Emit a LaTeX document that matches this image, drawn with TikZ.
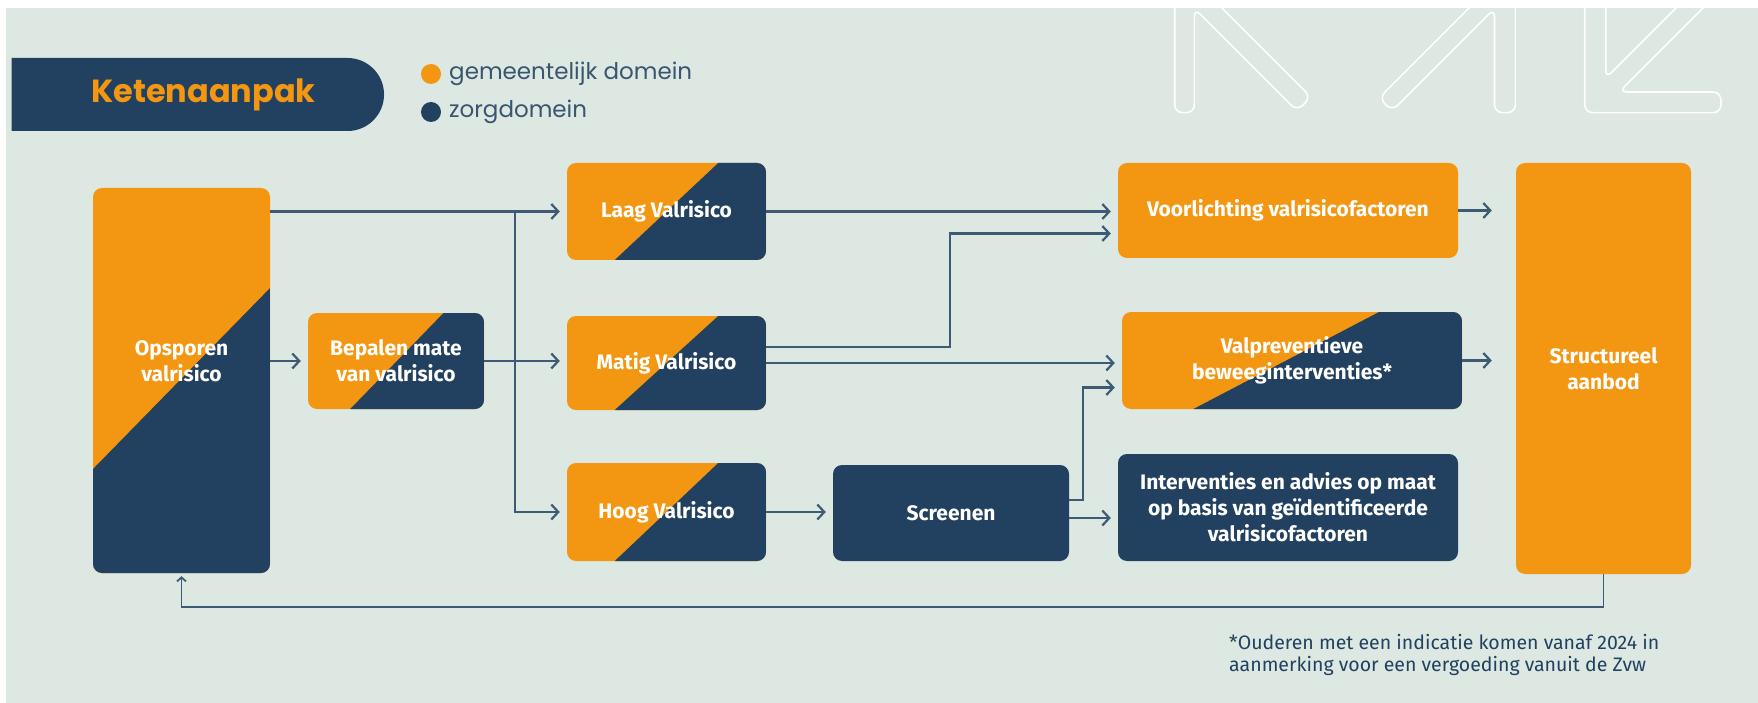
\documentclass[tikz,border=0pt]{standalone}
\usepackage{fontspec}
\setmainfont{Fira Sans}
\newfontfamily\poppins{Poppins}
\usetikzlibrary{calc,arrows.meta,shapes.misc}
\definecolor{keteorange}{HTML}{F39712}
\definecolor{ketenavy}{HTML}{22405F}
\definecolor{ketebg}{HTML}{DCE8E1}
\definecolor{ketearrow}{HTML}{3E5B75}
\definecolor{ketetext}{HTML}{3A5570}
\begin{document}
\begin{tikzpicture}[x=1pt, y=-1pt, >={Straight Barb[length=7pt,width=15pt]},
    box/.style={rounded corners=9pt, align=center, inner sep=0pt, text=white,
      font=\bfseries\fontsize{21}{26}\selectfont},
    orangebox/.style={box, fill=keteorange},
    navybox/.style={box, fill=ketenavy},
    splitbox/.style 2 args={box, fill=keteorange, path picture={
      \fill[ketenavy, sharp corners]
        ($(path picture bounding box.south west)!#1!(path picture bounding box.south east)$) --
        ($(path picture bounding box.north west)!#2!(path picture bounding box.north east)$) --
        (path picture bounding box.north east) -- (path picture bounding box.south east) -- cycle;}},
    titlebox/.style={rounded rectangle, rounded rectangle west arc=none, fill=ketenavy,
      text=keteorange, font=\poppins\bfseries\fontsize{32}{40}\selectfont},
    dot/.style={circle, inner sep=0pt, minimum size=20pt},
    legendtext/.style={anchor=west, inner sep=0pt, text=ketetext, font=\poppins\fontsize{23}{27}\selectfont},
    link/.style={->, draw=ketearrow, line width=2.2pt, shorten >=7pt}]
  \useasboundingbox (0,0) rectangle (1758,703);
  \fill[white] (0,0) rectangle (1758,703);
  \fill[ketebg] (6,8) rectangle (1758,703);
  \begin{scope}
    \clip (6,8) rectangle (1758,703);
    \draw[white, line width=1.6pt, rounded corners=8pt]
      (1174.7,-30) -- (1174.7,112.7) -- (1194.4,112.7) -- (1194.4,8.4) -- (1297,111) -- (1311,97) -- (1184,-30) -- cycle
      (1515.4,-30) -- (1515.4,112.7) -- (1494.5,112.7) -- (1494.5,8.5) -- (1392,111) -- (1379,98) -- (1507,-30) -- cycle
      (1584.7,-30) -- (1584.7,112.7) -- (1721,112.7) -- (1721,92) -- (1619,92) -- (1741,-30) -- (1714,-30) -- (1605.7,78.3) -- (1605.7,-30) -- cycle;
  \end{scope}

  \node[titlebox, minimum width=379pt, minimum height=73pt] (title) at (196,94.5) {\hspace*{15pt}Ketenaanpak};
  \node[dot, fill=keteorange] (dotg) at (431,74) {};
  \node[legendtext] (gem) at (449,74) {gemeentelijk domein};
  \node[dot, fill=ketenavy] (dotz) at (431,112) {};
  \node[legendtext] (zorg) at (449,112) {zorgdomein};

  \node[box, fill=keteorange, minimum width=177pt, minimum height=385pt,
    path picture={\fill[ketenavy, sharp corners]
      ($(path picture bounding box.south west)!0.27!(path picture bounding box.north west)$) --
      ($(path picture bounding box.south east)!0.74!(path picture bounding box.north east)$) --
      (path picture bounding box.south east) -- (path picture bounding box.south west) -- cycle;},
    label={[box, yshift=19.5pt]center:Opsporen\\valrisico}] (ops) at (181.5,380.5) {};
  \node[splitbox={0.24}{0.77}, minimum width=176pt, minimum height=96pt] (bep) at (396,361) {Bepalen mate\\van valrisico};
  \node[splitbox={0.24}{0.76}, minimum width=199pt, minimum height=97pt] (laag) at (666.5,211.5) {Laag Valrisico};
  \node[splitbox={0.24}{0.76}, minimum width=199pt, minimum height=94pt] (matig) at (666.5,363) {Matig Valrisico};
  \node[splitbox={0.24}{0.76}, minimum width=199pt, minimum height=98pt] (hoog) at (666.5,512) {Hoog Valrisico};
  \node[navybox, minimum width=236pt, minimum height=96pt] (screen) at (951,513) {Screenen};
  \node[orangebox, minimum width=340pt, minimum height=95pt] (voorl) at (1288,210.5) {Voorlichting valrisicofactoren};
  \node[splitbox={0.21}{0.756}, minimum width=340pt, minimum height=97pt] (valprev) at (1292,360.5) {Valpreventieve\\beweeginterventies*};
  \node[navybox, minimum width=340pt, minimum height=107pt] (interv) at (1288,507.5) {Interventies en advies op maat\\op basis van geïdentificeerde\\valrisicofactoren};
  \node[orangebox, minimum width=175pt, minimum height=411pt] (struct) at (1603.5,368.5) {Structureel\\aanbod};

  \node[anchor=north west, align=left, inner sep=0pt, text=ketenavy, font=\fontsize{19.5}{22.5}\selectfont] (note) at (1229,634)
    {*Ouderen met een indicatie komen vanaf 2024 in\\aanmerking voor een vergoeding vanuit de Zvw};

  \coordinate (fork) at ($(ops.east |- laag)+(245,0)$);
  \draw[link] (ops.east |- laag) -- (laag);
  \draw[link] (fork) |- (hoog);
  \draw[link] (ops.east |- bep) -- (bep);
  \draw[link] (bep) -- (bep -| matig.west);
  \draw[link] (laag) -- (laag -| voorl.west);
  \draw[link] ([yshift=16pt]matig.east) -- ++(184,0) |- ([yshift=-23pt]voorl.west);
  \draw[link] (matig) -- (matig -| valprev.west);
  \draw[link] (hoog) -- (hoog -| screen.west);
  \draw[link] ([yshift=13pt]screen.east) -- ++(14,0) |- ([yshift=-27pt]valprev.west);
  \draw[link] ([yshift=-5pt]screen.east) -- ([yshift=-5pt]screen.east -| interv.west);
  \draw[link, shorten >=24pt] (voorl) -- (voorl -| struct.west);
  \draw[link, shorten >=24pt] (valprev) -- (valprev -| struct.west);
  \draw[link, -{Straight Barb[length=4pt,width=9pt]}, line width=1.8pt, shorten >=3pt]
    (struct.south) -- ++(0,33) -| (ops.south);
\end{tikzpicture}
\end{document}
